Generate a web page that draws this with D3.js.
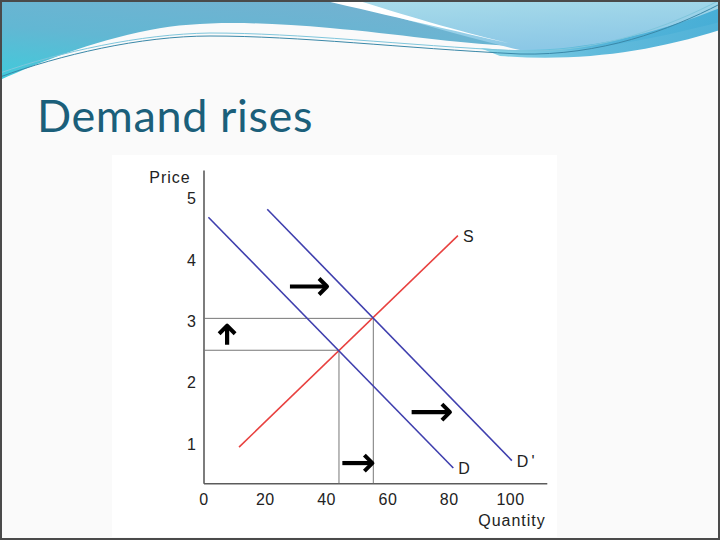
<!DOCTYPE html>
<html>
<head>
<meta charset="utf-8">
<script src="https://cdn.jsdelivr.net/npm/d3@7"></script>
<style>
  html, body { margin: 0; padding: 0; background: #fafafa; }
  svg { display: block; }
</style>
</head>
<body>
<svg id="chart" width="720" height="540"></svg>
<script>
// ---- data ----
const title = "Demand rises";
const xTicks = [0, 20, 40, 60, 80, 100];
const yTicks = [1, 2, 3, 4, 5];
const xDomain = [0, 112];
const yDomain = [0.36, 5.47];
const demandD = [{q: 1.6, p: 4.70}, {q: 81.5, p: 0.61}];
const demandD2 = [{q: 20.8, p: 4.83}, {q: 100.6, p: 0.73}];
const supplyS = [{q: 11.6, p: 0.95}, {q: 83.0, p: 4.40}];
const equilibria = [{q: 44.2, p: 2.53}, {q: 55.4, p: 3.05}];
const arrowsRight = [
  {q0: 28.2, q1: 40.3, p: 3.57},
  {q0: 67.9, q1: 80.4, p: 1.52},
  {q0: 45.3, q1: 55.1, p: 0.69}
];
const arrowsUp = [{q: 7.7, p0: 2.62, p1: 2.93}];
const curveLabels = ["S", "D", "D'"];

const svg = d3.select("#chart");

// ---- slide decoration ----
const defs = svg.append("defs");
const g1 = defs.append("linearGradient").attr("id", "gLeft")
  .attr("x1", "0").attr("y1", "1").attr("x2", "0.6").attr("y2", "0");
g1.append("stop").attr("offset", "0").attr("stop-color", "#3fcbdb");
g1.append("stop").attr("offset", "0.5").attr("stop-color", "#62b7d3");
g1.append("stop").attr("offset", "1").attr("stop-color", "#72b2d1");
const g2 = defs.append("linearGradient").attr("id", "gRight")
  .attr("x1", "0").attr("y1", "0").attr("x2", "0.3").attr("y2", "1");
g2.append("stop").attr("offset", "0").attr("stop-color", "#a9dcea");
g2.append("stop").attr("offset", "1").attr("stop-color", "#8cc8e6");
const g3 = defs.append("linearGradient").attr("id", "gBand")
  .attr("x1", "0").attr("y1", "0").attr("x2", "1").attr("y2", "0");
g3.append("stop").attr("offset", "0").attr("stop-color", "#7fd3e6");
g3.append("stop").attr("offset", "0.5").attr("stop-color", "#4fb3d8");
g3.append("stop").attr("offset", "1").attr("stop-color", "#3eaad4");

const deco = svg.append("g");
deco.append("path")
  .attr("d", "M0,0 L340,0 C 400,18 460,34 515,46 C 460,44 400,34 330,28 C 260,22 200,20 150,30 C 90,42 40,62 0,80 Z")
  .attr("fill", "url(#gLeft)");
deco.append("path")
  .attr("d", "M340,0 L720,0 L720,22 C 650,40 580,54 520,50 C 460,36 400,18 340,0 Z")
  .attr("fill", "url(#gRight)");
deco.append("path")
  .attr("d", "M480,48 C 560,56 640,40 720,8 L720,30 C 650,52 580,62 500,56 Z")
  .attr("fill", "url(#gBand)").attr("opacity", 0.9);
deco.append("path")
  .attr("d", "M322,0 L356,0 C 420,20 470,34 512,44 C 460,32 390,16 322,0 Z")
  .attr("fill", "#ffffff");
deco.append("path")
  .attr("d", "M0,77 C 60,55 140,36 210,36 C 300,36 400,48 520,54 C 600,56 670,30 720,4")
  .attr("fill", "none").attr("stroke", "#3a88a8").attr("stroke-width", 1);
deco.append("path")
  .attr("d", "M0,73 C 60,52 140,34 210,33 C 300,33 400,45 520,51 C 600,53 670,26 720,0")
  .attr("fill", "none").attr("stroke", "#7fc6dc").attr("stroke-width", 1);

// slide border
svg.append("rect").attr("x", 1).attr("y", 1).attr("width", 718).attr("height", 538)
  .attr("fill", "none").attr("stroke", "#4a4a4a").attr("stroke-width", 2);

// title
svg.append("text").attr("x", 37).attr("y", 132)
  .attr("font-family", "Lato, 'Open Sans', sans-serif").attr("font-size", 45)
  .attr("letter-spacing", 0.6)
  .attr("fill", "#1b5f7a").text(title);

// chart image background
svg.append("rect").attr("x", 112).attr("y", 155).attr("width", 445).attr("height", 382)
  .attr("fill", "#ffffff");

// ---- chart ----
const x = d3.scaleLinear().domain(xDomain).range([203.5, 546.8]);
const y = d3.scaleLinear().domain(yDomain).range([483.3, 170]);
const font = "'Liberation Sans', Arial, sans-serif";

const xAxis = svg.append("g").attr("transform", `translate(0,${y(yDomain[0])})`)
  .call(d3.axisBottom(x).tickValues(xTicks).tickFormat(d3.format("d")).tickSize(0).tickPadding(10));
const yAxis = svg.append("g").attr("transform", `translate(${x(xDomain[0])},0)`)
  .call(d3.axisLeft(y).tickValues(yTicks).tickFormat(d3.format("d")).tickSize(0).tickPadding(7));
[xAxis, yAxis].forEach(a => {
  a.select(".domain").attr("stroke", "#5c5c5c").attr("stroke-width", 1.6);
  a.selectAll("text").attr("font-family", font).attr("font-size", 16)
    .attr("fill", "#222").attr("letter-spacing", 0.5);
});

// axis titles
svg.append("text").attr("x", 170).attr("y", 183).attr("text-anchor", "middle")
  .attr("font-family", font).attr("font-size", 16).attr("letter-spacing", 1)
  .attr("fill", "#222").text("Price");
svg.append("text").attr("x", 512).attr("y", 526).attr("text-anchor", "middle")
  .attr("font-family", font).attr("font-size", 16).attr("letter-spacing", 1)
  .attr("fill", "#222").text("Quantity");

// equilibrium guide lines
const guides = svg.append("g").attr("stroke", "#777").attr("stroke-width", 1).attr("fill", "none");
equilibria.forEach(e => {
  guides.append("line").attr("x1", x(xDomain[0])).attr("x2", x(e.q))
    .attr("y1", y(e.p)).attr("y2", y(e.p));
  guides.append("line").attr("x1", x(e.q)).attr("x2", x(e.q))
    .attr("y1", y(e.p)).attr("y2", y(yDomain[0]));
});

// curves
const line = d3.line().x(d => x(d.q)).y(d => y(d.p));
const curves = [
  {data: supplyS, color: "#e8413f", label: curveLabels[0]},
  {data: demandD, color: "#3f3fae", label: curveLabels[1]},
  {data: demandD2, color: "#3f3fae", label: curveLabels[2]}
];
curves.forEach(c => {
  svg.append("path").attr("d", line(c.data)).attr("fill", "none")
    .attr("stroke", c.color).attr("stroke-width", 1.6);
  const end = c.data[c.data.length - 1];
  svg.append("text").attr("x", x(end.q) + 5).attr("y", y(end.p) + 6)
    .attr("font-family", font).attr("font-size", 16).attr("letter-spacing", 3)
    .attr("fill", "#222").text(c.label);
});

// arrows
const arr = svg.append("g").attr("fill", "none").attr("stroke", "#000")
  .attr("stroke-linecap", "butt").attr("stroke-linejoin", "round");
arrowsRight.forEach(a => {
  const x0 = x(a.q0), x1 = x(a.q1), yy = y(a.p);
  arr.append("line").attr("x1", x0).attr("x2", x1 - 2).attr("y1", yy).attr("y2", yy)
    .attr("stroke-width", 4.2);
  arr.append("path")
    .attr("d", `M${x1 - 8},${yy - 8} Q${x1 - 3},${yy - 3} ${x1},${yy} Q${x1 - 3},${yy + 3} ${x1 - 8},${yy + 8}`)
    .attr("stroke-width", 4);
});
arrowsUp.forEach(a => {
  const xx = x(a.q), y0 = y(a.p0), y1 = y(a.p1);
  arr.append("line").attr("x1", xx).attr("x2", xx).attr("y1", y0).attr("y2", y1 + 2)
    .attr("stroke-width", 4.2);
  arr.append("path")
    .attr("d", `M${xx - 8},${y1 + 8} Q${xx - 3},${y1 + 3} ${xx},${y1} Q${xx + 3},${y1 + 3} ${xx + 8},${y1 + 8}`)
    .attr("stroke-width", 4);
});
</script>
</body>
</html>
